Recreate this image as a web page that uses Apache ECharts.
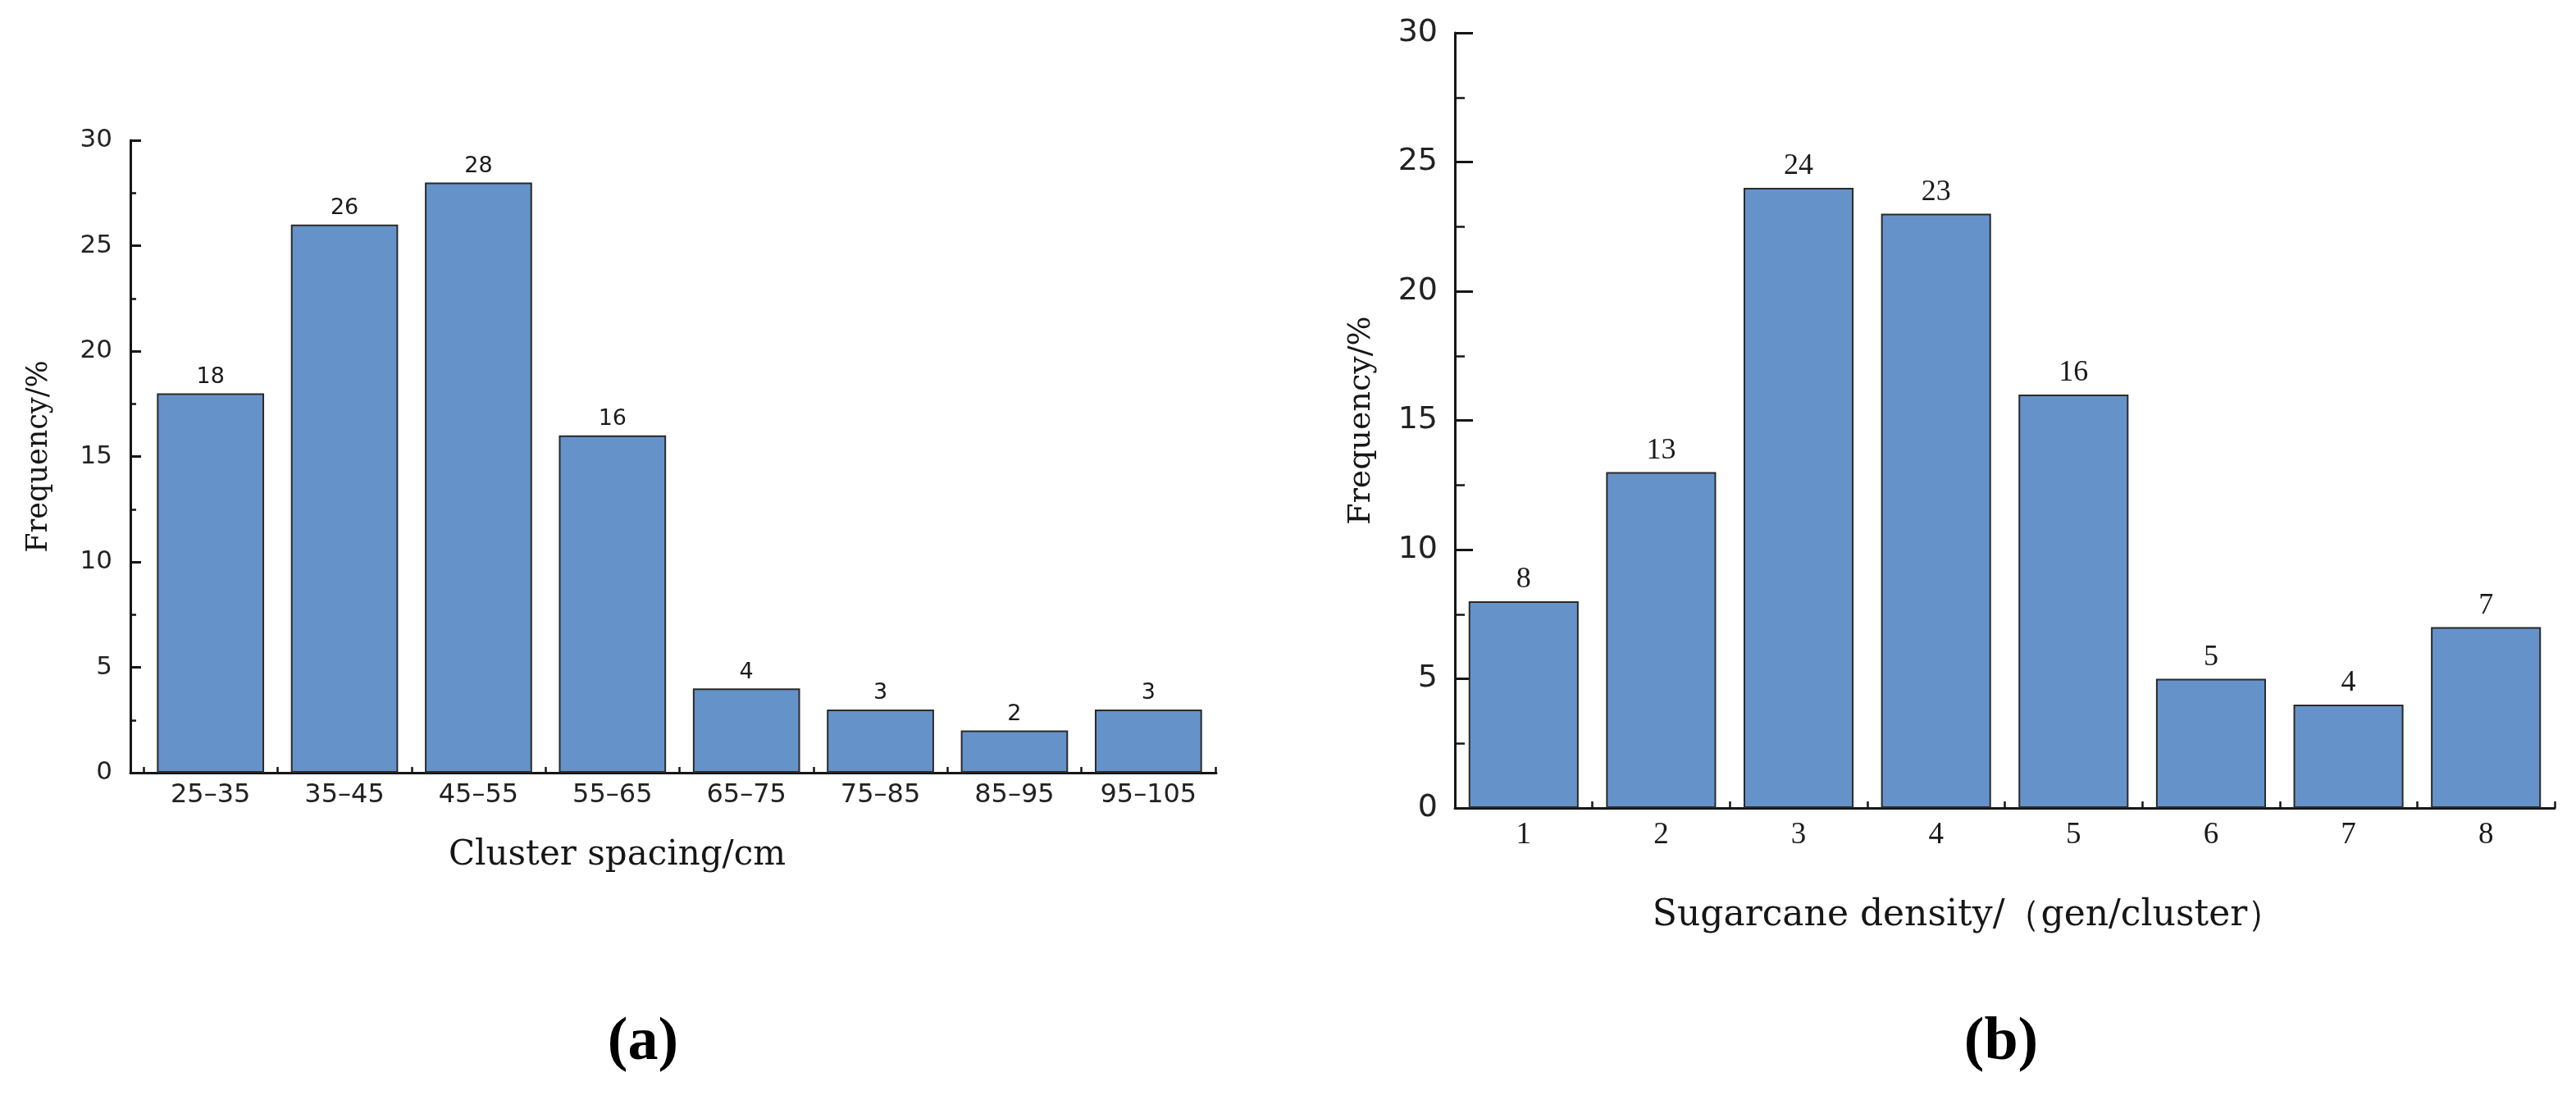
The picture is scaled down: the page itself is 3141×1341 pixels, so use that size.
<!DOCTYPE html>
<html>
<head>
<meta charset="utf-8">
<title>Cluster spacing and sugarcane density</title>
<script src="https://cdn.jsdelivr.net/npm/echarts@6/dist/echarts.min.js"></script>
<style>
  html, body { margin: 0; padding: 0; background: #fff; }
  #chart { width: 3141px; height: 1341px; }
</style>
</head>
<body>
<div id="chart"></div>
<script>
// panel (a): cluster spacing
const spacingCategories = ['25–35', '35–45', '45–55', '55–65', '65–75', '75–85', '85–95', '95–105'];
const spacingFrequency = [18, 26, 28, 16, 4, 3, 2, 3];

// panel (b): sugarcane density
const densityCategories = ['1', '2', '3', '4', '5', '6', '7', '8'];
const densityFrequency = [8, 13, 24, 23, 16, 5, 4, 7];

const yTicks = { min: 0, max: 30, interval: 5 };

const BAR_COLOR = '#6593c9';
const INK = '#161616';
const SANS = '"DejaVu Sans", Verdana, sans-serif';
const SERIF_WIDE = '"DejaVu Serif", serif';
const SERIF_TIMES = '"Liberation Serif", "Times New Roman", serif';

const chart = echarts.init(document.getElementById('chart'), null, { renderer: 'canvas' });

// shared axis line look
const axisLine = { show: true, onZero: false, lineStyle: { color: INK, width: 3 } };

function valueAxis(gridIndex, fontSize, show) {
    return {
        type: 'value',
        gridIndex: gridIndex,
        show: show,
        min: yTicks.min,
        max: yTicks.max,
        interval: yTicks.interval,
        axisLine: axisLine,
        axisTick: { show: true, inside: true, length: 13, lineStyle: { color: INK, width: 3 } },
        minorTick: { show: true, splitNumber: 2, length: 7, lineStyle: { color: INK, width: 2.5 } },
        splitLine: { show: false },
        axisLabel: { color: '#222', fontFamily: SANS, fontSize: fontSize, margin: 22 }
    };
}

const option = {
    backgroundColor: '#ffffff',
    animation: false,
    grid: [
        // (a) frame: axis lines run a little past the first category
        { left: 159, top: 171, width: 1324, height: 771 },
        // (a) categories
        { left: 175, top: 171, width: 1307, height: 771 },
        // (b)
        { left: 1774, top: 40, width: 1341, height: 945 }
    ],
    xAxis: [
        {
            type: 'value', gridIndex: 0, min: 0, max: 1,
            axisLine: axisLine, axisTick: { show: false },
            axisLabel: { show: false }, splitLine: { show: false }
        },
        {
            type: 'category', gridIndex: 1, position: 'bottom',
            data: spacingCategories,
            axisLine: { show: false, onZero: false },
            axisTick: { show: true, inside: true, alignWithLabel: true, length: 15, lineStyle: { color: INK, width: 3 } },
            axisLabel: { color: '#222', fontFamily: SANS, fontSize: 32, margin: 12 },
            name: 'Cluster spacing/cm',
            nameLocation: 'middle',
            nameGap: 80,
            nameTextStyle: { color: INK, fontFamily: SERIF_WIDE, fontSize: 42, padding: [0, 152, 0, 0] }
        },
        {
            type: 'category', gridIndex: 1, position: 'bottom',
            data: spacingCategories,
            axisLine: { show: false, onZero: false },
            axisTick: { show: true, inside: true, length: 7, lineStyle: { color: INK, width: 2.5 } },
            axisLabel: { show: false }
        },
        {
            type: 'category', gridIndex: 2, position: 'bottom',
            data: densityCategories,
            axisLine: axisLine,
            axisTick: { show: true, inside: true, alignWithLabel: true, length: 17, lineStyle: { color: INK, width: 3 } },
            axisLabel: { color: '#1a1a1a', fontFamily: SERIF_TIMES, fontSize: 37, margin: 15 },
            name: 'Sugarcane density/（gen/cluster）',
            nameLocation: 'middle',
            nameGap: 110,
            nameTextStyle: { color: INK, fontFamily: SERIF_WIDE, fontSize: 44, padding: [0, 90, 0, 0] }
        },
        {
            type: 'category', gridIndex: 2, position: 'bottom',
            data: densityCategories,
            axisLine: { show: false, onZero: false },
            axisTick: { show: true, inside: true, length: 8, lineStyle: { color: INK, width: 2.5 } },
            axisLabel: { show: false }
        }
    ],
    yAxis: [
        Object.assign(valueAxis(0, 31, true), {
            name: 'Frequency/%',
            nameLocation: 'middle',
            nameGap: 94,
            nameTextStyle: { color: INK, fontFamily: SERIF_WIDE, fontSize: 35 }
        }),
        valueAxis(1, 31, false),
        Object.assign(valueAxis(2, 38, true), {
            axisTick: { show: true, inside: true, length: 22, lineStyle: { color: INK, width: 3 } },
            minorTick: { show: true, splitNumber: 2, length: 12, lineStyle: { color: INK, width: 2.5 } },
            axisLabel: { color: '#222', fontFamily: SANS, fontSize: 38, margin: 21 },
            name: 'Frequency/%',
            nameLocation: 'middle',
            nameGap: 95,
            nameTextStyle: { color: INK, fontFamily: SERIF_WIDE, fontSize: 38 }
        })
    ],
    series: [
        {
            type: 'bar',
            xAxisIndex: 1,
            yAxisIndex: 1,
            data: spacingFrequency,
            barCategoryGap: '20%',
            itemStyle: { color: BAR_COLOR, borderColor: '#2a2a2a', borderWidth: 2 },
            label: {
                show: true, position: 'top', distance: 6,
                color: '#1a1a1a', fontFamily: SANS, fontSize: 27
            }
        },
        {
            type: 'bar',
            xAxisIndex: 3,
            yAxisIndex: 2,
            data: densityFrequency,
            barCategoryGap: '20%',
            itemStyle: { color: BAR_COLOR, borderColor: '#2a2a2a', borderWidth: 2 },
            label: {
                show: true, position: 'top', distance: 8,
                color: '#1a1a1a', fontFamily: SERIF_TIMES, fontSize: 36
            }
        }
    ],
    graphic: [
        {
            type: 'text', x: 784, y: 1272,
            style: { text: '(a)', fill: '#000', fontFamily: SERIF_TIMES, fontWeight: 'bold', fontSize: 74, align: 'center', verticalAlign: 'middle' }
        },
        {
            type: 'text', x: 2440, y: 1272,
            style: { text: '(b)', fill: '#000', fontFamily: SERIF_TIMES, fontWeight: 'bold', fontSize: 74, align: 'center', verticalAlign: 'middle' }
        }
    ]
};

chart.setOption(option);
window.addEventListener('resize', () => chart.resize());
</script>
</body>
</html>
